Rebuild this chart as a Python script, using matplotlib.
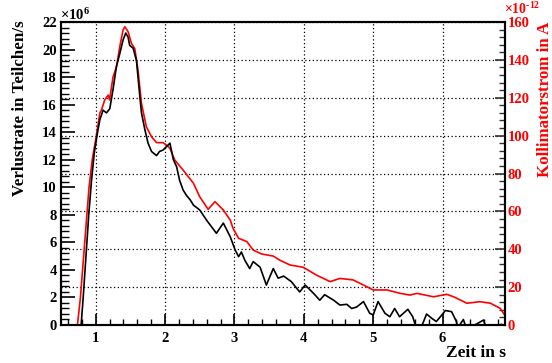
import matplotlib
matplotlib.use("Agg")
import matplotlib.pyplot as plt
from matplotlib.ticker import MultipleLocator

plt.rcParams['font.family'] = ['Liberation Serif', 'DejaVu Serif']
plt.rcParams['font.weight'] = 'bold'
plt.rcParams['mathtext.fontset'] = 'custom'
plt.rcParams['mathtext.rm'] = 'Liberation Serif:bold'
plt.rcParams['mathtext.bf'] = 'Liberation Serif:bold'
plt.rcParams['mathtext.it'] = 'Liberation Serif:bold'

# Verlustrate (x 1e6 Teilchen/s)
loss_t = [0.79, 0.82, 0.86, 0.90, 0.94, 0.98, 1.02, 1.06, 1.106, 1.155, 1.203, 1.25, 1.30,
          1.347, 1.395, 1.434, 1.467, 1.49, 1.54, 1.588, 1.61, 1.636, 1.66, 1.708, 1.755,
          1.805, 1.877, 1.92, 1.97, 2.02, 2.07, 2.12, 2.166, 2.21, 2.26, 2.31, 2.36, 2.41,
          2.5, 2.6, 2.74, 2.84, 2.94, 3.01, 3.06, 3.10, 3.15, 3.22, 3.27, 3.37, 3.46, 3.56,
          3.63, 3.71, 3.82, 3.94, 4.02, 4.14, 4.23, 4.30, 4.43, 4.52, 4.62, 4.69, 4.76,
          4.86, 4.95, 5.00, 5.07, 5.17, 5.24, 5.31, 5.38, 5.50, 5.57, 5.62, 5.69, 5.77,
          5.84, 5.91, 5.99, 6.04, 6.13, 6.20, 6.22, 6.30, 6.34, 6.42, 6.50, 6.59, 6.63,
          6.75, 6.85, 6.9]
loss_v = [0.0, 2.0, 5.0, 8.0, 10.5, 12.5, 13.8, 14.9, 15.6, 15.4, 15.7, 17.1, 18.8,
          19.7, 20.7, 21.2, 20.9, 20.3, 20.1, 19.2, 18.0, 16.6, 15.4, 14.2, 13.2,
          12.6, 12.3, 12.6, 12.7, 12.95, 13.2, 12.0, 11.5, 10.5, 9.8, 9.4, 9.1, 8.7,
          8.35, 7.6, 6.66, 7.4, 6.4, 5.45, 4.96, 5.3, 4.7, 4.1, 4.6, 4.2, 2.9, 4.1,
          3.4, 3.55, 3.15, 2.4, 2.9, 2.3, 1.8, 2.2, 1.8, 1.45, 1.5, 1.2, 1.3,
          1.7, 0.85, 0.73, 1.7, 0.85, 0.6, 1.2, 0.6, 1.14, 0.6, -0.2, -0.2, 0.8,
          0.5, 0.25, 0.73, 1.05, 0.97, 0.25, -0.2, 0.4, -0.2, -0.1, 0.1, 0.36, -0.2,
          -0.1, 0.05, -0.1]

# Kollimatorstrom (x 1e-12 A)
coll_t = [0.737, 0.78, 0.842, 0.904, 0.95, 1.01, 1.06, 1.083, 1.13, 1.18, 1.20, 1.25,
          1.30, 1.347, 1.395, 1.42, 1.467, 1.515, 1.563, 1.61, 1.66, 1.73, 1.805, 1.877,
          1.97, 2.02, 2.07, 2.14, 2.26, 2.41, 2.5, 2.62, 2.72, 2.84, 2.94, 2.98, 3.06,
          3.18, 3.27, 3.39, 3.56, 3.65, 3.80, 3.99, 4.18, 4.38, 4.52, 4.71, 4.86, 5.00,
          5.20, 5.39, 5.53, 5.63, 5.87, 6.06, 6.16, 6.35, 6.54, 6.69, 6.83, 6.9]
coll_v = [0.0, 14.5, 43.6, 72.7, 87.3, 100.0, 112.0, 113.5, 118.8, 121.4, 118.8, 131.0,
          136.4, 147.0, 155.8, 157.5, 154.9, 148.7, 146.0, 134.6, 117.0, 104.7, 99.4, 96.3,
          96.3, 95.0, 93.3, 87.1, 81.8, 74.8, 67.7, 61.1, 65.1, 60.7, 55.4, 51.0, 45.8,
          44.0, 39.6, 37.5, 36.4, 34.3, 31.7, 30.5, 26.4, 22.9, 24.6, 23.8, 21.1, 18.5,
          18.5, 16.7, 15.8, 16.7, 14.9, 16.2, 14.9, 11.5, 12.3, 11.5, 8.8, 5.0]

x_ticks = [1, 2, 3, 4, 5, 6]
left_ticks = list(range(0, 23, 2))
right_ticks = list(range(0, 161, 20))

fig = plt.figure(figsize=(5.52, 3.63), dpi=100)
axR = fig.add_axes([61/552, 1-325/363, 444/552, 303/363])
axL = axR.twinx()

# red axis (right) is the host -> its grid is at the back
axR.yaxis.tick_right()
axR.yaxis.set_label_position('right')
axL.yaxis.tick_left()
axL.yaxis.set_label_position('left')

axR.set_xlim(0.5, 6.9)
axR.set_ylim(0, 160)
axL.set_ylim(0, 22)

axR.plot(coll_t, coll_v, color='#ff0000', lw=1.2, zorder=3)
axL.plot(loss_t, loss_v, color='black', lw=1.2, zorder=3)

axR.set_xticks(x_ticks)
axR.xaxis.set_minor_locator(MultipleLocator(0.2))
axR.set_yticks(right_ticks)
axR.yaxis.set_minor_locator(MultipleLocator(4))
axL.set_yticks(left_ticks)
axL.yaxis.set_minor_locator(MultipleLocator(0.4))

axR.grid(True, which='major', color='black', linestyle=(0, (1, 2)), lw=0.9, zorder=0)
axR.set_axisbelow(True)

for ax in (axR, axL):
    for sp in ax.spines.values():
        sp.set_linewidth(1.5)
        sp.set_color('black')

axR.tick_params(axis='x', which='major', direction='in', length=8, width=1.2, labelsize=10.5,
                pad=5, top=False)
axR.tick_params(axis='x', which='minor', direction='in', length=4, width=1.0, top=False)
axR.tick_params(axis='y', which='major', direction='in', length=7, width=1.2, labelsize=10.5,
                colors='#333333', pad=2)
axR.tick_params(axis='y', which='minor', direction='in', length=4, width=1.0, colors='#333333')
axR.tick_params(axis='y', labelcolor='#ff0000')
axL.tick_params(axis='y', which='major', direction='in', length=10, width=1.2, labelsize=10.5,
                pad=3)
axL.tick_params(axis='y', which='minor', direction='in', length=6, width=1.0)

for lab in axR.get_xticklabels() + axR.get_yticklabels() + axL.get_yticklabels():
    lab.set_fontweight('bold')

fig.text(20.5/552, 1-20/363, 'Verlustrate in Teilchen/s', rotation=90, ha='center', va='top',
         fontsize=12.2, fontweight='bold', color='black')
fig.text(545/552, 1-22/363, 'Kollimatorstrom in A', rotation=90, ha='center', va='top',
         fontsize=12.2, fontweight='bold', color='#ff0000')
fig.text(506/552, 1-353/363, 'Zeit in s', ha='right', va='center',
         fontsize=12.5, fontweight='bold', color='black')
fig.text(60/552, 1-20/363, r'$\times 10^{6}$', ha='left', va='baseline', fontsize=10.5,
         color='black')
fig.text(504/552, 1-14/363, r'$\times 10^{\text{-}12}$', ha='left', va='baseline',
         fontsize=10, color='#ff0000')

fig.savefig('out.png', dpi=100)
